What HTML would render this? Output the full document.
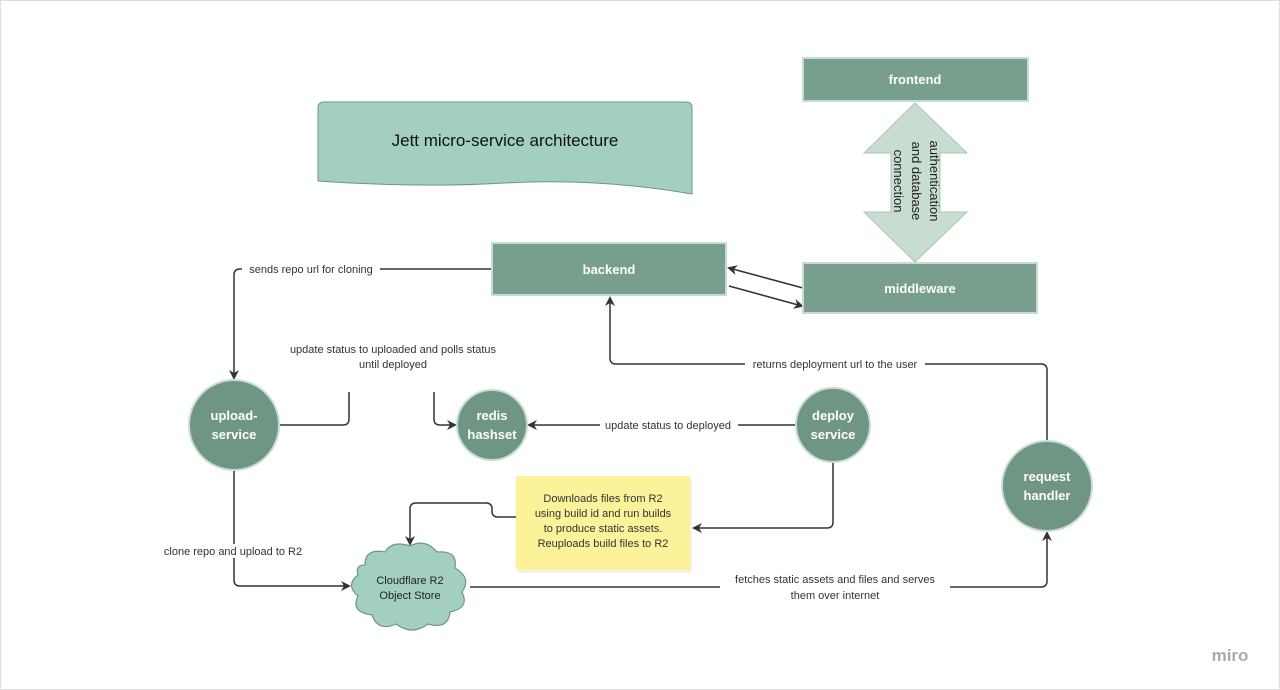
<!DOCTYPE html><html><head><style>body{margin:0;background:#fff}svg{display:block;font-family:"Liberation Sans",sans-serif}</style></head><body>
<svg width="1280" height="690" viewBox="0 0 1280 690">
<defs><marker id="a" markerWidth="10" markerHeight="10" refX="8" refY="5" orient="auto" markerUnits="userSpaceOnUse"><path d="M0,0 L10,5 L0,10 L3,5 Z" fill="#333"/></marker></defs>
<rect x="0.5" y="0.5" width="1279" height="689" fill="#fff" stroke="#ddd"/>
<g fill="none" stroke="#333" stroke-width="1.5">
<path d="M492,269 H240 Q234,269 234,275 V378" marker-end="url(#a)"/>
<path d="M279,425 H343 Q349,425 349,419 V392"/>
<path d="M434,392 V419 Q434,425 440,425 H455" marker-end="url(#a)"/>
<path d="M796,425 H529" marker-end="url(#a)"/>
<path d="M833,462 V522 Q833,528 827,528 H694" marker-end="url(#a)"/>
<path d="M516,517 H498 Q492,517 492,511 V509 Q492,503 486,503 H416 Q410,503 410,509 V544" marker-end="url(#a)"/>
<path d="M234,470 V580 Q234,586 240,586 H349" marker-end="url(#a)"/>
<path d="M470,587 H1041 Q1047,587 1047,581 V533" marker-end="url(#a)"/>
<path d="M1047,441 V370 Q1047,364 1041,364 H616 Q610,364 610,358 V298" marker-end="url(#a)"/>
<path d="M803,288 L729,268" marker-end="url(#a)"/>
<path d="M729,286 L802,306" marker-end="url(#a)"/>
</g>
<g font-size="11" fill="#333" text-anchor="middle">
<rect x="242" y="262" width="138" height="14" fill="#fff"/><text x="311" y="273">sends repo url for cloning</text>
<text x="393" y="353">update status to uploaded and polls status</text><text x="393" y="368">until deployed</text>
<rect x="600" y="418" width="138" height="14" fill="#fff"/><text x="668" y="429">update status to deployed</text>
<rect x="160" y="544" width="148" height="14" fill="#fff"/><text x="233" y="555">clone repo and upload to R2</text>
<rect x="720" y="572" width="230" height="30" fill="#fff"/><text x="835" y="583">fetches static assets and files and serves</text><text x="835" y="599">them over internet</text>
<rect x="745" y="357" width="180" height="14" fill="#fff"/><text x="835" y="368">returns deployment url to the user</text>
</g>
<path d="M318,108 Q318,102 324,102 H686 Q692,102 692,108 V194 Q600,178 505,183 Q420,188 318,181 Z" fill="#a2cfc0" stroke="#6f9583" stroke-width="1"/>
<text x="505" y="146" font-size="17" text-anchor="middle" fill="#111">Jett micro-service architecture</text>
<g stroke="#c8dcd3" stroke-width="2" fill="#789e8e">
<rect x="803" y="58" width="225" height="43"/>
<rect x="803" y="263" width="234" height="50"/>
<rect x="492" y="243" width="234" height="52"/>
</g>
<g fill="#fff" font-size="13" text-anchor="middle" font-weight="bold">
<text x="915" y="84">frontend</text><text x="920" y="293">middleware</text><text x="609" y="274">backend</text>
</g>
<path d="M915,103 L967,153 H940 V212 H967 L915,262 L864,212 H891 V153 H864 Z" fill="#c8dcd0" stroke="#a9c6b7"/>
<g font-size="13" fill="#222" text-anchor="middle">
<text transform="translate(930,181) rotate(90)">authentication</text>
<text transform="translate(912,181) rotate(90)">and database</text>
<text transform="translate(894,181) rotate(90)">connection</text>
</g>
<g fill="#6f9583" stroke="#c8dcd3" stroke-width="2">
<circle cx="234" cy="425" r="45"/><circle cx="492" cy="425" r="35"/><circle cx="833" cy="425" r="37"/><circle cx="1047" cy="486" r="45"/>
</g>
<g fill="#fff" font-size="13" text-anchor="middle" font-weight="bold">
<text x="234" y="420">upload-</text><text x="234" y="439">service</text>
<text x="492" y="420">redis</text><text x="492" y="439">hashset</text>
<text x="833" y="420">deploy</text><text x="833" y="439">service</text>
<text x="1047" y="481">request</text><text x="1047" y="500">handler</text>
</g>
<rect x="518" y="479" width="174" height="94" fill="#e8e8c8" opacity=".5"/>
<rect x="516" y="476" width="174" height="94" fill="#fbf29a"/>
<g font-size="11" fill="#333" text-anchor="middle">
<text x="603" y="502">Downloads files from R2</text><text x="603" y="517">using build id and run builds</text><text x="603" y="532">to produce static assets.</text><text x="603" y="547">Reuploads build files to R2</text>
</g>
<path d="M365,565 Q365,548 385,552 Q392,540 410,546 Q425,538 437,552 Q458,550 455,568 Q472,578 462,592 Q470,608 450,612 Q448,630 428,624 Q412,636 396,624 Q378,632 372,615 Q350,612 358,596 Q345,585 358,575 Q355,565 365,565 Z" fill="#a2cfc0" stroke="#6f9583" stroke-width="1.2"/>
<g font-size="11" fill="#222" text-anchor="middle"><text x="410" y="584">Cloudflare R2</text><text x="410" y="599">Object Store</text></g>
<text x="1230" y="661" font-size="17" fill="#aaa" text-anchor="middle" font-weight="bold">miro</text>
</svg></body></html>
